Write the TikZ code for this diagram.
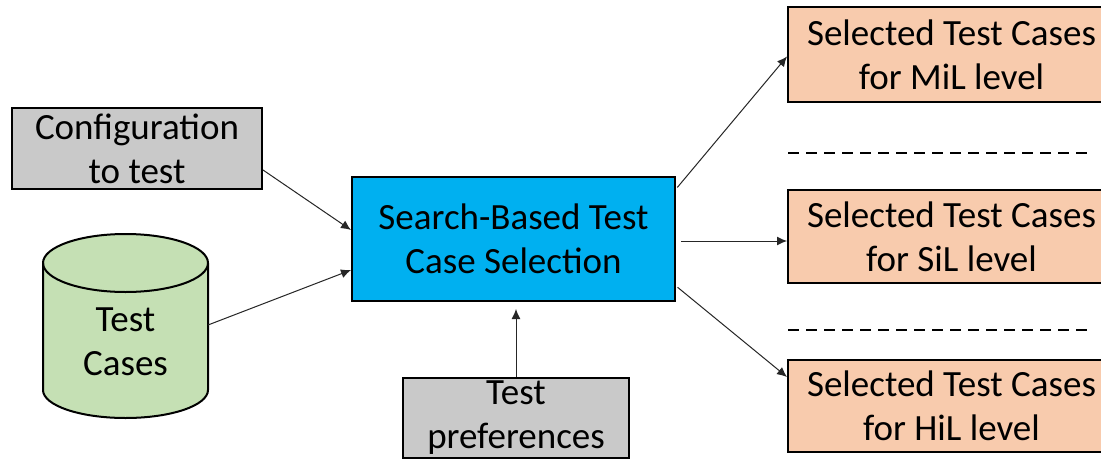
\documentclass[tikz,border=0pt]{standalone}
\usepackage{fontspec}
\setmainfont{Carlito}
\usetikzlibrary{arrows.meta,calc}
\definecolor{boxgray}{RGB}{201,201,201}
\definecolor{boxblue}{RGB}{0,176,240}
\definecolor{boxpeach}{RGB}{248,203,173}
\definecolor{boxgreen}{RGB}{197,224,180}
\tikzset{
  label font/.style={font=\fontsize{18.5pt}{22pt}\selectfont},
  block/.style={draw=black, line width=1pt, rectangle, inner sep=0pt, align=center, label font},
  inbox/.style={block, fill=boxgray},
  corebox/.style={block, fill=boxblue, minimum width=161.5pt, minimum height=62pt},
  outbox/.style={block, fill=boxpeach, minimum width=163.5pt},
  link/.style={-{Latex[length=5pt,width=4.5pt]}, line width=0.5pt, black!85},
  separator/.style={line width=1pt, dash pattern=on 5.5pt off 3.5pt}
}
\begin{document}
\begin{tikzpicture}[x=0.5pt,y=-0.5pt]
  \clip (0,0) rectangle (1101,460);
  \fill[white] (0,0) rectangle (1101,460);

  % central process
  \node[corebox] (sbt) at (513.5,239) {Search-Based Test\\Case Selection};

  % inputs
  \node[inbox, minimum width=125pt, minimum height=40.5pt] (config) at (137,148.5) {Configuration\\to test};
  \node[inbox, minimum width=113pt, minimum height=40pt] (prefs) at (516,418) {Test\\preferences};

  % test case database (cylinder); y axis points down, so arcs run 180 -> 0 for the lower half
  \filldraw[fill=boxgreen, draw=black, line width=1pt]
    (43,263) -- (43,390) arc[start angle=180, end angle=0, x radius=82.5, y radius=28]
    -- (208,263) arc[start angle=0, end angle=-180, x radius=82.5, y radius=29] -- cycle;
  \draw[line width=1pt] (43,263) arc[start angle=180, end angle=0, x radius=82.5, y radius=29];
  \node[label font, align=center, inner sep=0pt] (cases) at (125.5,342) {Test\\Cases};
  \coordinate (dbout) at (208,325);

  % outputs
  \node[outbox, minimum height=47.5pt] (mil) at (951.5,54.5) {Selected Test Cases\\for MiL level};
  \node[outbox, minimum height=46.5pt] (sil) at (951.5,236.5) {Selected Test Cases\\for SiL level};
  \node[outbox, minimum height=46pt] (hil) at (951.5,406) {Selected Test Cases\\for HiL level};

  % separators between output levels
  \coordinate (sepA) at (788,153);
  \coordinate (sepB) at (788,330);
  \draw[separator] (sepA) -- ++(304,0);
  \draw[separator] (sepB) -- ++(304,0);

  % connectors
  \draw[link] ([yshift=-10.75pt]config.east) -- ([yshift=4.5pt]sbt.west);
  \draw[link] (dbout) -- ([yshift=-15.5pt]sbt.west);
  \draw[link, shorten >=3.5pt] (prefs.north) -- (prefs.north |- sbt.south);
  \draw[link, shorten <=1pt] ([yshift=-6.5pt]sbt.north east) -- ([yshift=-1pt]mil.west);
  \draw[link, shorten <=2.5pt] ([yshift=-1pt]sbt.east) -- ([yshift=-1pt]sbt.east -| sil.west);
  \draw[link, shorten <=1pt] ([yshift=8pt]sbt.south east) -- ([yshift=14.5pt]hil.west);
\end{tikzpicture}
\end{document}
